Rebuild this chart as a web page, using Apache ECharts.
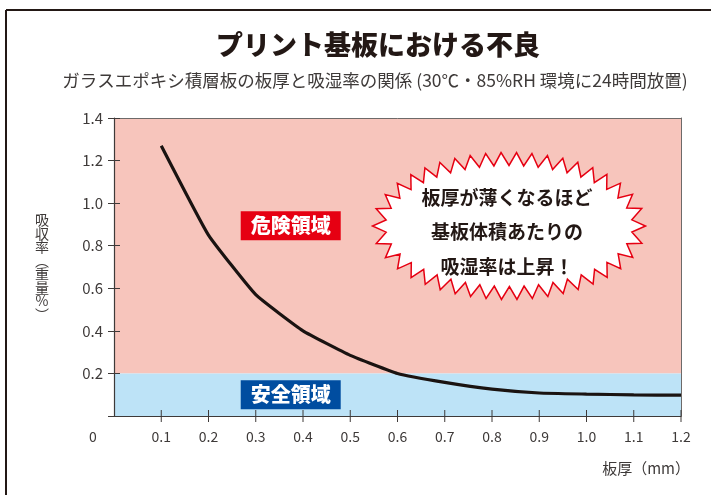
<!DOCTYPE html>
<html><head><meta charset="utf-8">
<script src="https://cdn.jsdelivr.net/npm/echarts@6/dist/echarts.min.js"></script>
<style>html,body{margin:0;padding:0;background:#fff}#c{width:711px;height:495px}</style>
</head><body><div id="c"></div>
<script>
// ---- data ----
const thickness = [0.1, 0.2, 0.3, 0.4, 0.5, 0.6, 0.7, 0.8, 0.9, 1.0, 1.1, 1.2];
const absorption = [1.27, 0.85, 0.57, 0.40, 0.285, 0.20, 0.158, 0.126, 0.108, 0.103, 0.099, 0.098];
const xRange = [0, 1.2];
const yRange = [0, 1.4];
const safeLimit = 0.2;
const titleText = 'プリント基板における不良';
const subtitleText = 'ガラスエポキシ積層板の板厚と吸湿率の関係 (30℃・85%RH 環境に24時間放置)';
const xName = '板厚（mm）';
const yNameChars = ['吸','収','率','︵','重','量','%','︶'];
const dangerLabel = '危険領域';
const safeLabel = '安全領域';
const calloutLines = ['板厚が薄くなるほど', '基板体積あたりの', '吸湿率は上昇！'];

const FONT = '"Noto Sans CJK JP", "Noto Sans", sans-serif';
const dark = '#231815';
const gray = '#3e3a39';

// starburst polygon (decoration)
function starburst(cx, cy, rx, ry, depth, n) {
  const M = 2000, pts = [], len = [0];
  for (let i = 0; i <= M; i++) {
    const t = i / M * Math.PI * 2;
    pts.push([cx + rx * Math.cos(t), cy + ry * Math.sin(t), t]);
    if (i > 0) len.push(len[i-1] + Math.hypot(pts[i][0]-pts[i-1][0], pts[i][1]-pts[i-1][1]));
  }
  const total = len[M], out = [];
  let j = 0;
  for (let k = 0; k < 2 * n; k++) {
    const target = k / (2 * n) * total;
    while (j < M && len[j + 1] < target) j++;
    const t = pts[j][2];
    const nx = ry * Math.cos(t), ny = rx * Math.sin(t), nl = Math.hypot(nx, ny);
    const off = (k % 2 === 0) ? depth / 2 : -depth / 2;
    out.push([pts[j][0] + nx / nl * off, pts[j][1] + ny / nl * off]);
  }
  return out;
}

const chart = echarts.init(document.getElementById('c'));
const option = {
  animation: false,
  grid: { left: 114, right: 30, top: 118, bottom: 79 },
  xAxis: [
    { type: 'value', min: xRange[0], max: xRange[1], interval: 0.1, position: 'bottom', z: 10,
      splitLine: { show: false },
      axisLine: { show: true, onZero: false, lineStyle: { color: gray, width: 1.2 } },
      axisTick: { show: false },
      axisLabel: { margin: 14, color: gray, fontSize: 14, fontFamily: FONT,
        formatter: v => Math.abs(v) < 1e-9 ? '{z|0}' : v.toFixed(1),
        rich: { z: { padding: [0, 42, 0, 0], color: gray, fontSize: 14, fontFamily: FONT } } } },
    { type: 'value', min: xRange[0], max: xRange[1], interval: 0.1, position: 'top', z: 10,
      splitLine: { show: false }, axisLine: { show: true, onZero: false, lineStyle: { color: '#6d6a69', width: 1 } },
      axisTick: { show: false }, axisLabel: { show: false } }
  ],
  yAxis: [
    { type: 'value', min: yRange[0], max: yRange[1], interval: 0.2, position: 'left', z: 10,
      splitLine: { show: false },
      axisLine: { show: true, onZero: false, lineStyle: { color: gray, width: 1.2 } },
      axisTick: { show: true, length: 6, lineStyle: { color: gray } },
      axisLabel: { margin: 11, color: gray, fontSize: 15, fontFamily: FONT,
        formatter: v => Math.abs(v) < 1e-9 ? '' : v.toFixed(1) } },
    { type: 'value', min: yRange[0], max: yRange[1], interval: 0.2, position: 'left', z: 10,
      splitLine: { show: false }, axisLine: { show: false, onZero: false },
      axisTick: { show: true, inside: true, length: 6, lineStyle: { color: gray } },
      axisLabel: { show: false } },
    { type: 'value', min: yRange[0], max: yRange[1], interval: 0.2, position: 'right', z: 10,
      splitLine: { show: false }, axisLine: { show: true, onZero: false, lineStyle: { color: '#6d6a69', width: 1 } },
      axisTick: { show: false }, axisLabel: { show: false } }
  ],
  series: [{
    type: 'line',
    data: thickness.map((x, i) => [x, absorption[i]]),
    smooth: 0.12,
    symbol: 'none',
    z: 5,
    lineStyle: { color: '#1a1311', width: 3.2 },
    markArea: {
      silent: true,
      data: [
        [{ yAxis: safeLimit, itemStyle: { color: '#f7c5bc' } }, { yAxis: yRange[1] }],
        [{ yAxis: yRange[0], itemStyle: { color: '#bde3f7' } }, { yAxis: safeLimit }]
      ]
    },
    markPoint: {
      silent: true,
      symbol: 'rect',
      symbolSize: [100, 29],
      data: [
        { coord: [0.374, 0.894], itemStyle: { color: '#e60012' },
          label: { show: true, position: 'inside', formatter: dangerLabel, color: '#fff', fontSize: 20, fontWeight: 900, fontFamily: FONT } },
        { coord: [0.374, 0.10], itemStyle: { color: '#004da0' },
          label: { show: true, position: 'inside', formatter: safeLabel, color: '#fff', fontSize: 20, fontWeight: 900, fontFamily: FONT } }
      ]
    }
  }, {
    // x-axis tick marks crossing the axis line, placed through the axis scale
    type: 'custom',
    silent: true,
    clip: false,
    z: 12,
    data: thickness.map(x => [x, yRange[0]]),
    renderItem: (params, api) => {
      const p = api.coord([api.value(0), api.value(1)]);
      return { type: 'line', shape: { x1: p[0], y1: p[1] - 6, x2: p[0], y2: p[1] + 6 },
        style: { stroke: gray, lineWidth: 1 } };
    }
  }],
  graphic: [
    { type: 'line', shape: { x1: 6, y1: 10, x2: 711, y2: 10 }, style: { stroke: dark, lineWidth: 2 } },
    { type: 'line', shape: { x1: 6, y1: 10, x2: 6, y2: 495 }, style: { stroke: dark, lineWidth: 2 } },
    { type: 'text', x: 378, y: 45, style: { text: titleText, fill: dark, font: '900 27px ' + FONT, textAlign: 'center', textVerticalAlign: 'middle' } },
    { type: 'text', x: 375, y: 80, style: { text: subtitleText, fill: gray, font: '17.5px ' + FONT, textAlign: 'center', textVerticalAlign: 'middle' } },
    { type: 'text', x: 690, y: 468, style: { text: xName, fill: gray, font: '15px ' + FONT, textAlign: 'right', textVerticalAlign: 'middle' } },
    { type: 'text', x: 42, y: 267, style: { text: yNameChars.join('\n'), fill: gray, font: '14px ' + FONT, lineHeight: 13.5, textAlign: 'center', textVerticalAlign: 'middle' } },
    { type: 'polygon', z: 20, shape: { points: starburst(509, 226, 130, 67, 13, 42) }, style: { fill: '#fff', stroke: '#e60012', lineWidth: 1.5 } },
    { type: 'text', z: 21, x: 507, y: 232, style: { text: calloutLines.join('\n'), fill: dark, font: 'bold 19px ' + FONT, lineHeight: 34.5, textAlign: 'center', textVerticalAlign: 'middle' } }
  ]
};
chart.setOption(option);
</script>
</body></html>
